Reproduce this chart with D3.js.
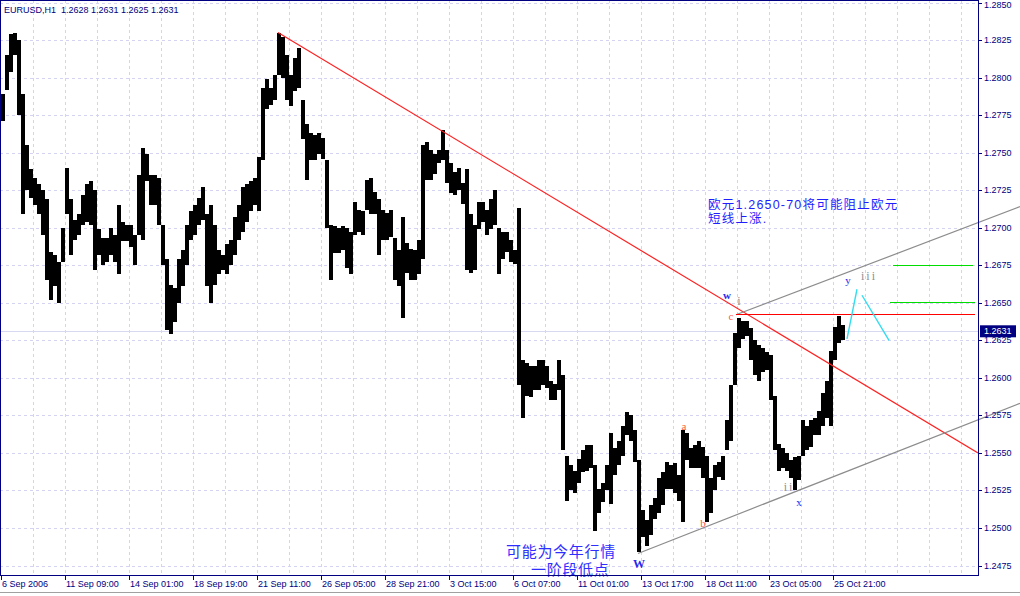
<!DOCTYPE html>
<html><head><meta charset="utf-8">
<script src="https://cdn.jsdelivr.net/npm/d3@7"></script>
<style>body{margin:0;background:#fff;overflow:hidden}svg{display:block}</style>
</head><body><svg id="c" width="1020" height="596"></svg>
<script>
// ---- data (EURUSD H1, grouped in 4-hour buckets) ----
const bucketHours = 4;
const highs = [1.2789,1.2815,1.2829,1.2830,1.2825,1.2789,1.2755,1.2739,1.2733,1.2729,
1.2725,1.2719,1.2684,1.2682,1.2677,1.2700,1.2740,1.2719,1.2705,1.2709,
1.2722,1.2729,1.2731,1.2725,1.2699,1.2693,1.2693,1.2700,1.2695,1.2715,
1.2704,1.2702,1.2702,1.2695,1.2735,1.2753,1.2749,1.2735,1.2735,1.2733,
1.2702,1.2679,1.2662,1.2660,1.2679,1.2685,1.2702,1.2711,1.2715,1.2720,
1.2727,1.2709,1.2715,1.2702,1.2685,1.2682,1.2689,1.2692,1.2707,1.2715,
1.2727,1.2729,1.2731,1.2733,1.2747,1.2793,1.2799,1.2793,1.2802,1.2830,
1.2827,1.2815,1.2802,1.2813,1.2820,1.2785,1.2769,1.2763,1.2762,1.2763,
1.2760,1.2745,1.2702,1.2701,1.2700,1.2701,1.2700,1.2697,1.2717,1.2712,
1.2711,1.2732,1.2733,1.2724,1.2719,1.2712,1.2710,1.2712,1.2693,1.2685,
1.2707,1.2690,1.2686,1.2685,1.2692,1.2755,1.2757,1.2752,1.2749,1.2752,
1.2765,1.2752,1.2743,1.2737,1.2740,1.2730,1.2739,1.2709,1.2702,1.2717,
1.2717,1.2712,1.2719,1.2725,1.2700,1.2697,1.2697,1.2692,1.2685,1.2713,
1.2612,1.2610,1.2608,1.2608,1.2612,1.2612,1.2608,1.2598,1.2596,1.2612,
1.2602,1.2548,1.2542,1.2538,1.2546,1.2552,1.2555,1.2555,1.2542,1.2526,
1.2530,1.2542,1.2563,1.2553,1.2558,1.2568,1.2577,1.2575,1.2565,1.2545,
1.2512,1.2505,1.2515,1.2520,1.2533,1.2537,1.2544,1.2542,1.2543,1.2535,
1.2565,1.2563,1.2553,1.2555,1.2558,1.2554,1.2548,1.2533,1.2542,1.2544,
1.2548,1.2572,1.2595,1.2630,1.2640,1.2638,1.2638,1.2633,1.2625,1.2622,
1.2620,1.2617,1.2615,1.2588,1.2556,1.2553,1.2550,1.2545,1.2547,1.2548,
1.2572,1.2568,1.2572,1.2573,1.2578,1.2590,1.2598,1.2618,1.2634,1.2641,
1.2635];
const lows = [1.2771,1.2792,1.2804,1.2815,1.2775,1.2709,1.2725,1.2720,1.2715,1.2709,
1.2695,1.2665,1.2652,1.2661,1.2650,1.2677,1.2709,1.2682,1.2692,1.2695,
1.2702,1.2704,1.2702,1.2672,1.2682,1.2675,1.2677,1.2682,1.2677,1.2669,
1.2691,1.2691,1.2687,1.2675,1.2695,1.2692,1.2731,1.2715,1.2715,1.2702,
1.2675,1.2632,1.2629,1.2637,1.2650,1.2661,1.2675,1.2692,1.2695,1.2702,
1.2705,1.2661,1.2650,1.2662,1.2669,1.2672,1.2669,1.2675,1.2682,1.2692,
1.2697,1.2704,1.2711,1.2715,1.2711,1.2745,1.2779,1.2782,1.2785,1.2802,
1.2800,1.2785,1.2781,1.2791,1.2793,1.2759,1.2732,1.2745,1.2745,1.2749,
1.2746,1.2700,1.2665,1.2683,1.2683,1.2685,1.2673,1.2669,1.2695,1.2697,
1.2695,1.2712,1.2709,1.2709,1.2682,1.2692,1.2692,1.2694,1.2665,1.2661,
1.2640,1.2670,1.2665,1.2665,1.2669,1.2679,1.2732,1.2732,1.2736,1.2743,
1.2745,1.2730,1.2723,1.2722,1.2725,1.2716,1.2672,1.2670,1.2672,1.2699,
1.2704,1.2695,1.2699,1.2702,1.2669,1.2679,1.2684,1.2677,1.2676,1.2595,
1.2573,1.2588,1.2587,1.2592,1.2592,1.2595,1.2593,1.2585,1.2585,1.2592,
1.2552,1.2518,1.2525,1.2523,1.2530,1.2537,1.2538,1.2540,1.2498,1.2510,
1.2517,1.2525,1.2516,1.2535,1.2542,1.2548,1.2562,1.2558,1.2544,1.2484,
1.2494,1.2488,1.2495,1.2506,1.2510,1.2515,1.2526,1.2526,1.2523,1.2518,
1.2504,1.2545,1.2540,1.2540,1.2540,1.2533,1.2504,1.2510,1.2525,1.2534,
1.2532,1.2552,1.2558,1.2595,1.2620,1.2626,1.2628,1.2612,1.2602,1.2598,
1.2604,1.2605,1.2585,1.2552,1.2538,1.2540,1.2538,1.2533,1.2525,1.2532,
1.2548,1.2552,1.2554,1.2562,1.2562,1.2568,1.2573,1.2568,1.2612,1.2623,
1.2625];
const lastPrice = 1.2631;
const titleText = "EURUSD,H1  1.2628 1.2631 1.2625 1.2631";
const priceTicks = [1.2475,1.2500,1.2525,1.2550,1.2575,1.2600,1.2625,1.2650,1.2675,1.2700,1.2725,1.2750,1.2775,1.2800,1.2825,1.2850];
const timeTickHours = [0,64,128,192,256,320,384,448,512,576,640,704,768,832];
const timeTickLabels = ["6 Sep 2006","11 Sep 09:00","14 Sep 01:00","18 Sep 19:00","21 Sep 11:00","26 Sep 05:00","28 Sep 21:00","3 Oct 15:00","6 Oct 07:00","11 Oct 01:00","13 Oct 17:00","18 Oct 11:00","23 Oct 05:00","25 Oct 21:00"];
// drawn objects (hour, price)
const redTrend = [[277,1.2830],[977,1.2550]];
const upperChannel = [[735,1.2642],[1019,1.2714]];
const lowerChannel = [[637,1.2483],[1019,1.2583]];
const redLevel = [[735,1.2642],[974,1.2642]];
const greenLevel1 = [[892,1.2675],[972,1.2675]];
const greenLevel2 = [[889,1.2650],[974,1.2650]];
const cyanUp = [[846,1.2626],[856,1.2659]];
const cyanDown = [[861,1.2655],[888,1.2625]];
const waveLabels = ["w","i","c","a","b","W","ii","x","y","iii"];
const waveHours = [726,739,730,683,702,638,788,798,847,868];
const wavePrices = [1.2655,1.2651,1.2641,1.2568,1.2503,1.2476,1.2527,1.2517,1.2665,1.2668];
const noteTop = ["欧元1.2650-70将可能阻止欧元","短线上涨."];
const noteTopAt = [[707,1.27125],[707,1.27028]];
const noteBottom = ["可能为今年行情","一阶段低点"];
const noteBottomAt = [[505,1.24807],[530,1.24687]];

// ---- drawing ----
const svg = d3.select("#c");
const plotRight = 978, plotBottom = 575;
const xs = d3.scaleLinear().domain([0,977]).range([1,978]);
const ys = d3.scaleLinear().domain([1.2475,1.2850]).range([565.5,2.5]);
const navy = "#000080", gridC = "#d4d4f2";
const axFont = "'Liberation Sans', Arial, sans-serif";

svg.append("rect").attr("width",1020).attr("height",596).attr("fill","#fff");

// grid
const g = svg.append("g").attr("shape-rendering","crispEdges");
g.selectAll(".hg").data(priceTicks).join("line")
  .attr("x1",0).attr("x2",plotRight)
  .attr("y1",d=>Math.round(ys(d))+0.5).attr("y2",d=>Math.round(ys(d))+0.5)
  .attr("stroke",gridC).attr("stroke-dasharray","3,3");
const vgrid = d3.range(32, 977, 32);
g.selectAll(".vg").data(vgrid).join("line")
  .attr("x1",d=>Math.round(xs(d))+0.5).attr("x2",d=>Math.round(xs(d))+0.5)
  .attr("y1",0).attr("y2",plotBottom)
  .attr("stroke",gridC).attr("stroke-dasharray","3,3");

// bid line
svg.append("line").attr("x1",0).attr("x2",plotRight)
  .attr("y1",Math.round(ys(lastPrice))+0.5).attr("y2",Math.round(ys(lastPrice))+0.5)
  .attr("stroke","#d8d8f0").attr("shape-rendering","crispEdges");

// bars
svg.append("g").attr("shape-rendering","crispEdges").selectAll("rect").data(highs).join("rect")
  .attr("x",(d,i)=>xs(i*bucketHours))
  .attr("width",(d,i)=>xs((i+1)*bucketHours)-xs(i*bucketHours))
  .attr("y",d=>ys(d))
  .attr("height",(d,i)=>Math.max(1,ys(lows[i])-ys(d)))
  .attr("fill","#000");

// objects
const line = d3.line().x(d=>xs(d[0])).y(d=>ys(d[1]));
const clipId = "plotclip";
svg.append("clipPath").attr("id",clipId).append("rect").attr("x",0).attr("y",0).attr("width",plotRight).attr("height",plotBottom);
svg.append("path").attr("d",line(redTrend)).attr("stroke","#ff2020").attr("stroke-width",1.2).attr("fill","none").attr("clip-path",`url(#${clipId})`);
[upperChannel,lowerChannel].forEach(l=>svg.append("path").attr("d",line(l)).attr("stroke","#8c8c8c").attr("stroke-width",1.2).attr("fill","none"));
svg.append("path").attr("d",line(redLevel)).attr("stroke","#ff0000").attr("stroke-width",1).attr("fill","none").attr("shape-rendering","crispEdges");
[greenLevel1,greenLevel2].forEach(l=>svg.append("path").attr("d",line(l)).attr("stroke","#00dd00").attr("stroke-width",1).attr("fill","none").attr("shape-rendering","crispEdges"));
[cyanUp,cyanDown].forEach(l=>svg.append("path").attr("d",line(l)).attr("stroke","#33ddf0").attr("stroke-width",1.4).attr("fill","none"));

// wave labels
const waveColor = s => (s==="w"||s==="W"||s==="x"||s==="y") ? "#2a2aee" : (s==="a"||s==="b"||s==="c") ? "#ff5a3c" : "#909090";
svg.append("g").selectAll("text").data(waveLabels).join("text")
  .attr("x",(d,i)=>xs(waveHours[i])).attr("y",(d,i)=>ys(wavePrices[i]))
  .attr("text-anchor","middle").attr("dominant-baseline","central")
  .attr("font-family","'Liberation Serif', 'DejaVu Serif', serif")
  .attr("font-size",d=>d==="W"?12:(d.startsWith("i")?12:11))
  .attr("font-weight",d=>(d==="w"||d==="W")?"bold":"normal")
  .attr("letter-spacing",d=>d.startsWith("i")?"2px":"0")
  .attr("fill",waveColor).text(d=>d);

// notes
const noteFont = "'Liberation Sans', 'Noto Sans CJK SC', sans-serif";
svg.append("g").selectAll("text").data(noteTop).join("text")
  .attr("x",(d,i)=>xs(noteTopAt[i][0])).attr("y",(d,i)=>ys(noteTopAt[i][1]))
  .attr("font-family",noteFont).attr("font-size",12.5).attr("letter-spacing","1.2px")
  .attr("fill","#1e1eff").text(d=>d);
svg.append("g").selectAll("text").data(noteBottom).join("text")
  .attr("x",(d,i)=>xs(noteBottomAt[i][0])).attr("y",(d,i)=>ys(noteBottomAt[i][1]))
  .attr("font-family",noteFont).attr("font-size",15).attr("letter-spacing","0.7px")
  .attr("fill","#2e2eff").text(d=>d);

// frame / axes
const ax = svg.append("g").attr("shape-rendering","crispEdges").attr("stroke",navy);
ax.append("line").attr("x1",0.5).attr("x2",0.5).attr("y1",0).attr("y2",plotBottom);
ax.append("line").attr("x1",0).attr("x2",plotRight).attr("y1",0.5).attr("y2",0.5);
ax.append("line").attr("x1",plotRight+0.5).attr("x2",plotRight+0.5).attr("y1",0).attr("y2",plotBottom+1);
ax.append("line").attr("x1",0).attr("x2",plotRight+1).attr("y1",plotBottom+0.5).attr("y2",plotBottom+0.5);
ax.selectAll(".yt").data(priceTicks).join("line")
  .attr("x1",plotRight).attr("x2",plotRight+4)
  .attr("y1",d=>Math.round(ys(d))+0.5).attr("y2",d=>Math.round(ys(d))+0.5);
ax.selectAll(".xt").data(timeTickHours).join("line")
  .attr("x1",d=>Math.round(xs(d))+0.5).attr("x2",d=>Math.round(xs(d))+0.5)
  .attr("y1",plotBottom).attr("y2",plotBottom+5);

svg.append("g").selectAll("text").data(priceTicks).join("text")
  .attr("x",plotRight+6).attr("y",d=>Math.max(ys(d),5)).attr("dominant-baseline","central")
  .attr("font-family",axFont).attr("font-size",9).attr("fill",navy)
  .text(d=>d.toFixed(4));
svg.append("g").selectAll("text").data(timeTickLabels).join("text")
  .attr("x",(d,i)=>xs(timeTickHours[i])+1).attr("y",587)
  .attr("font-family",axFont).attr("font-size",9).attr("fill",navy)
  .text(d=>d);

// last price box
svg.append("rect").attr("x",plotRight+2).attr("y",ys(lastPrice)-6).attr("width",36).attr("height",12).attr("fill",navy);
svg.append("text").attr("x",plotRight+6).attr("y",ys(lastPrice)).attr("dominant-baseline","central")
  .attr("font-family",axFont).attr("font-size",9).attr("fill","#fff").text(lastPrice.toFixed(4));

// title
svg.append("text").attr("x",4).attr("y",13).attr("font-family",axFont).attr("font-size",9)
  .attr("fill",navy).attr("xml:space","preserve").style("white-space","pre").text(titleText);

// bottom window strip
svg.append("line").attr("x1",0).attr("x2",1020).attr("y1",592.5).attr("y2",592.5).attr("stroke","#a0a0a0").attr("shape-rendering","crispEdges");
</script></body></html>
